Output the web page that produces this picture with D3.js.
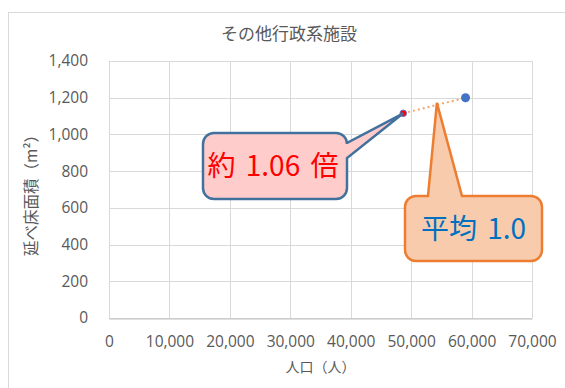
<!DOCTYPE html>
<html>
<head>
<meta charset="utf-8">
<script src="https://cdn.jsdelivr.net/npm/d3@7"></script>
<style>
  html, body { margin: 0; padding: 0; background: #fff; }
  svg { display: block; }
</style>
</head>
<body>
<svg id="chart" width="565" height="388"></svg>
<script>
// ---- data ----
const chartTitle = "その他行政系施設";
const xAxisTitle = "人口（人）";
const yAxisTitle = "延べ床面積（m²）";
const pointNames = ["当該", "平均"];
const population = [48700, 59000];
const floorArea = [1115, 1200];
const xTickValues = [0, 10000, 20000, 30000, 40000, 50000, 60000, 70000];
const yTickValues = [0, 200, 400, 600, 800, 1000, 1200, 1400];
const calloutTexts = ["約 1.06 倍", "平均 1.0"];

// ---- layout ----
const svg = d3.select("#chart");
const plot = { left: 109, right: 532, top: 61, bottom: 318 };
const x = d3.scaleLinear().domain([0, 70000]).range([plot.left, plot.right]);
const y = d3.scaleLinear().domain([0, 1400]).range([plot.bottom, plot.top]);
const fmt = d3.format(",");
const numFont = "'Open Sans', 'Noto Sans CJK JP', sans-serif";
const jpFont = "'Noto Sans CJK JP', sans-serif";
const textGray = "#595959";

// chart area border
svg.append("rect").attr("x", 8.5).attr("y", 12.5).attr("width", 600).attr("height", 400)
  .attr("fill", "#fff").attr("stroke", "#D9D9D9").attr("stroke-width", 1);

// title
svg.append("text").attr("x", 289).attr("y", 40).attr("text-anchor", "middle")
  .attr("font-family", jpFont).attr("font-size", 17).attr("fill", textGray)
  .text(chartTitle);

// gridlines
const grid = svg.append("g");
grid.selectAll("line.v").data(xTickValues).join("line").attr("class", "v")
  .attr("x1", d => Math.round(x(d)) + 0.5).attr("x2", d => Math.round(x(d)) + 0.5)
  .attr("y1", plot.top).attr("y2", plot.bottom)
  .attr("stroke", "#D9D9D9").attr("stroke-width", 1);
grid.selectAll("line.h").data(yTickValues).join("line").attr("class", "h")
  .attr("x1", plot.left).attr("x2", plot.right)
  .attr("y1", d => Math.round(y(d)) + 0.5).attr("y2", d => Math.round(y(d)) + 0.5)
  .attr("stroke", "#D9D9D9").attr("stroke-width", 1);

// x axis
const xAxis = svg.append("g").attr("transform", `translate(0,${Math.round(y(0)) + 0.5})`)
  .call(d3.axisBottom(x).tickValues(xTickValues).tickFormat(fmt).tickSize(0).tickPadding(17));
xAxis.select(".domain").attr("stroke", "#BFBFBF");
xAxis.selectAll("text").attr("font-family", numFont).attr("font-size", 15.5).attr("fill", textGray);

// y axis
const yAxis = svg.append("g").attr("transform", `translate(${plot.left},0)`)
  .call(d3.axisLeft(y).tickValues(yTickValues).tickFormat(fmt).tickSize(0).tickPadding(21));
yAxis.select(".domain").remove();
yAxis.selectAll("text").attr("font-family", numFont).attr("font-size", 15.5).attr("fill", textGray);

// axis titles
svg.append("text").attr("x", (plot.left + plot.right) / 2).attr("y", 372).attr("text-anchor", "middle")
  .attr("font-family", jpFont).attr("font-size", 14).attr("fill", textGray).text(xAxisTitle);
svg.append("text").attr("transform", `translate(37,${(plot.top + plot.bottom) / 2 + 2}) rotate(-90)`)
  .attr("text-anchor", "middle").attr("font-family", jpFont).attr("font-size", 15.5)
  .attr("fill", textGray).text(yAxisTitle);

// dotted line between points
svg.append("line")
  .attr("x1", x(population[0])).attr("y1", y(floorArea[0]))
  .attr("x2", x(population[1])).attr("y2", y(floorArea[1]))
  .attr("stroke", "#F4A46E").attr("stroke-width", 2).attr("stroke-dasharray", "2,3");

// points
svg.append("circle").attr("cx", x(population[1])).attr("cy", y(floorArea[1])).attr("r", 4.5)
  .attr("fill", "#4472C4");
svg.append("circle").attr("cx", x(population[0])).attr("cy", y(floorArea[0])).attr("r", 3.3)
  .attr("fill", "#FF0000").attr("stroke", "#6F6FD0").attr("stroke-width", 1);

// callouts
function calloutPath(b, r, side, a1, a2, tx, ty) {
  const { x0, y0, x1, y1 } = b;
  let p = `M${x0 + r},${y0}`;
  if (side === "top") p += ` L${a1},${y0} L${tx},${ty} L${a2},${y0}`;
  p += ` L${x1 - r},${y0} A${r},${r} 0 0 1 ${x1},${y0 + r}`;
  if (side === "right") p += ` L${x1},${a1} L${tx},${ty} L${x1},${a2}`;
  p += ` L${x1},${y1 - r} A${r},${r} 0 0 1 ${x1 - r},${y1}`;
  p += ` L${x0 + r},${y1} A${r},${r} 0 0 1 ${x0},${y1 - r}`;
  p += ` L${x0},${y0 + r} A${r},${r} 0 0 1 ${x0 + r},${y0} Z`;
  return p;
}

// callout 1: ratio, pointing at the target point
const box1 = { x0: 203, y0: 133, x1: 347, y1: 199 };
svg.append("path")
  .attr("d", calloutPath(box1, 11, "right", 143, 158, x(population[0]), y(floorArea[0])))
  .attr("fill", "#FFCCCC").attr("stroke", "#41719C").attr("stroke-width", 2.5)
  .attr("stroke-linejoin", "miter");
svg.append("text").attr("x", (box1.x0 + box1.x1) / 2 - 2).attr("y", (box1.y0 + box1.y1) / 2)
  .attr("dy", "0.36em").attr("text-anchor", "middle")
  .attr("font-family", jpFont).attr("font-size", 28).attr("word-spacing", 4).attr("fill", "#FF0000")
  .text(calloutTexts[0]);

// callout 2: average, pointing at the dotted line
const t = 0.54;
const tipX = x(population[0] + t * (population[1] - population[0]));
const tipY = y(floorArea[0] + t * (floorArea[1] - floorArea[0])) - 2;
const box2 = { x0: 405, y0: 196, x1: 542, y1: 261 };
svg.append("path")
  .attr("d", calloutPath(box2, 11, "top", 428, 462, tipX, tipY))
  .attr("fill", "#F8CBAD").attr("stroke", "#ED7D31").attr("stroke-width", 2.5)
  .attr("stroke-linejoin", "miter");
svg.append("text").attr("x", (box2.x0 + box2.x1) / 2).attr("y", (box2.y0 + box2.y1) / 2)
  .attr("dy", "0.36em").attr("text-anchor", "middle")
  .attr("font-family", jpFont).attr("font-size", 28).attr("word-spacing", 4).attr("fill", "#0070C0")
  .text(calloutTexts[1]);
</script>
</body>
</html>
